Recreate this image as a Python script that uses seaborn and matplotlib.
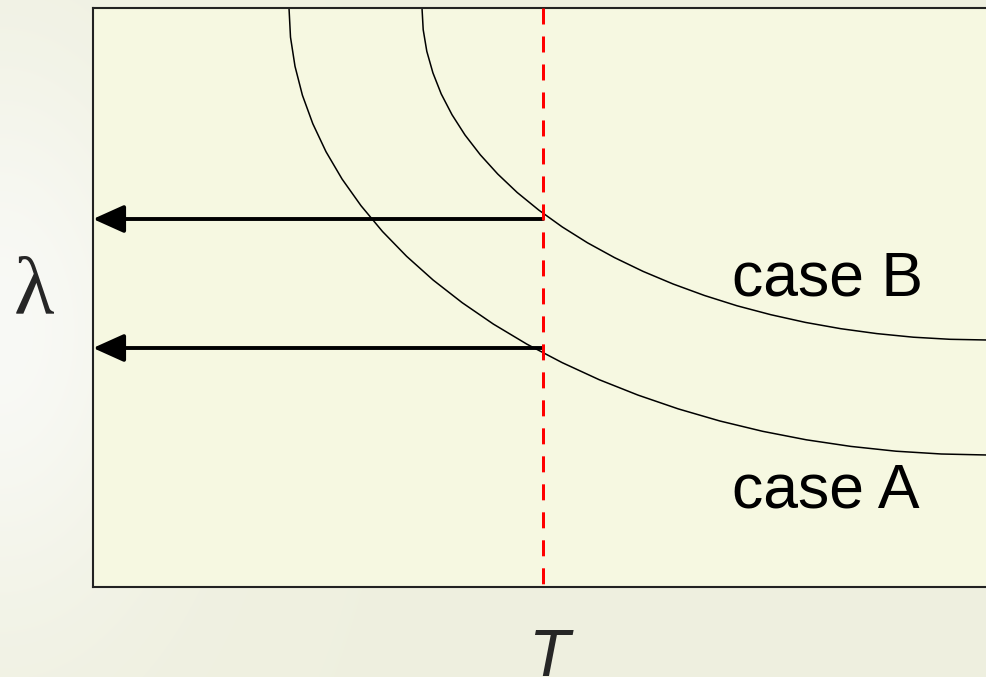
import numpy as np
import matplotlib
matplotlib.use("Agg")
import matplotlib.pyplot as plt
import seaborn as sns

# ========== DADOS ==========
# curva "case A"
curve_a_x = [1.960, 1.975, 2.020, 2.094, 2.198, 2.330, 2.491, 2.680, 2.895, 3.136,
             3.402, 3.692, 4.004, 4.338, 4.691, 5.062, 5.450, 5.853, 6.269, 6.696,
             7.133, 7.578, 8.029, 8.484, 8.940, 9.000]
curve_a_y = [5.790, 5.498, 5.207, 4.918, 4.633, 4.353, 4.079, 3.813, 3.555, 3.307,
             3.069, 2.843, 2.629, 2.429, 2.244, 2.073, 1.919, 1.781, 1.660, 1.557,
             1.472, 1.406, 1.358, 1.330, 1.320, 1.320]
# curva "case B"
curve_b_x = [3.290, 3.302, 3.338, 3.399, 3.482, 3.590, 3.720, 3.873, 4.047, 4.242,
             4.458, 4.692, 4.945, 5.215, 5.501, 5.801, 6.115, 6.441, 6.778, 7.124,
             7.478, 7.838, 8.203, 8.570, 8.940, 9.000]
curve_b_y = [5.790, 5.573, 5.357, 5.142, 4.931, 4.723, 4.520, 4.322, 4.130, 3.945,
             3.769, 3.601, 3.442, 3.294, 3.156, 3.030, 2.915, 2.812, 2.723, 2.646,
             2.583, 2.534, 2.498, 2.477, 2.470, 2.470]

t_mark = 4.50                 # posição da linha vermelha (T)
lambda_a = 2.39
lambda_b = 3.68
labels = ["case A", "case B"]
label_x = 6.39
label_y = [0.79, 2.92]

x_lim = (0, 9.0)
y_lim = (0, 5.79)

# ========== CONFIGURAÇÕES ==========
sns.set_style("white")
plt.rcParams["font.family"] = ["Liberation Sans", "DejaVu Sans"]

fig = plt.figure(figsize=(9.87, 6.77), dpi=100)

# fundo em degradê
bg = fig.add_axes([0, 0, 1, 1], zorder=-10)
h, w = 677, 987
yy, xx = np.mgrid[0:h, 0:w]
wgt = np.exp(-(xx / 170.0) ** 2) * np.exp(-((yy - 330) / 280.0) ** 2)
base = np.array([0.937, 0.941, 0.878])
light = np.array([0.976, 0.979, 0.964])
img = base[None, None, :] * (1 - wgt[..., None]) + light[None, None, :] * wgt[..., None]
bg.imshow(img, aspect="auto", extent=[0, 1, 0, 1])
bg.axis("off")

ax = fig.add_axes([93 / 987, 1 - 587 / 677, 900 / 987, 579 / 677])
ax.set_facecolor("#F6F8E1")

sns.lineplot(x=curve_a_x, y=curve_a_y, sort=False, estimator=None, color="black", lw=1.1, ax=ax)
sns.lineplot(x=curve_b_x, y=curve_b_y, sort=False, estimator=None, color="black", lw=1.1, ax=ax)

for lam in [lambda_a, lambda_b]:
    ax.annotate("", xy=(x_lim[0], lam), xytext=(t_mark, lam),
                arrowprops=dict(arrowstyle="-|>,head_length=1.0,head_width=0.45",
                                mutation_scale=19, color="black", lw=2.8,
                                shrinkA=0, shrinkB=0), zorder=3)

ax.plot([t_mark, t_mark], [y_lim[1], y_lim[0]], color="red", lw=2.16,
        dashes=(5.33, 4.0), zorder=4)

for lab, ly in zip(labels, label_y):
    ax.text(label_x, ly, lab, fontsize=45, ha="left", va="baseline", color="black")

ax.set_xlim(*x_lim)
ax.set_ylim(*y_lim)
ax.set_xticks([])
ax.set_yticks([])
for sp in ax.spines.values():
    sp.set_color("#222222")
    sp.set_linewidth(1.5)

fig.text(34 / 987, 1 - 313 / 677, "λ", fontsize=60, family=["Liberation Serif", "DejaVu Serif"],
         ha="center", va="baseline")
fig.text(548 / 987, 1 - 676 / 677, "T", fontsize=48, style="italic", ha="center", va="baseline")

fig.savefig("out.png", dpi=100)
